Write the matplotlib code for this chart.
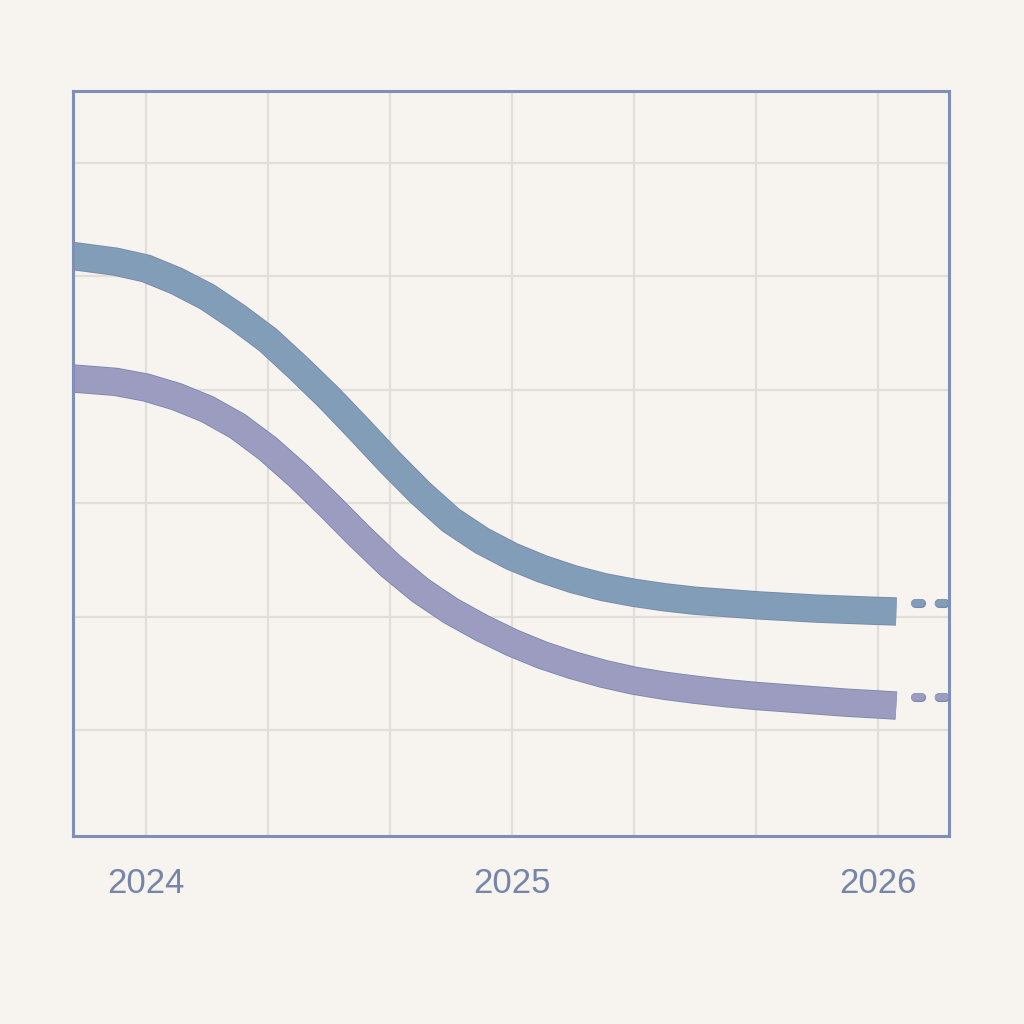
import matplotlib
matplotlib.use('Agg')
import matplotlib.pyplot as plt
import matplotlib.patheffects as pe

# decimal years (monthly)
years = [2023.800, 2023.917, 2024.000, 2024.083, 2024.167, 2024.250, 2024.333,
         2024.417, 2024.500, 2024.583, 2024.667, 2024.750, 2024.833, 2024.917,
         2025.000, 2025.083, 2025.167, 2025.250, 2025.333, 2025.417, 2025.500,
         2025.583, 2025.667, 2025.750, 2025.833, 2025.917, 2026.000, 2026.050]
upper = [5.18, 5.13, 5.07, 4.96, 4.82, 4.64, 4.44,
         4.19, 3.93, 3.65, 3.36, 3.09, 2.85, 2.67,
         2.53, 2.42, 2.33, 2.26, 2.21, 2.17, 2.14,
         2.12, 2.10, 2.085, 2.07, 2.06, 2.05, 2.045]
lower = [4.10, 4.07, 4.02, 3.94, 3.83, 3.68, 3.48,
         3.24, 2.98, 2.71, 2.45, 2.23, 2.05, 1.90,
         1.77, 1.66, 1.57, 1.495, 1.435, 1.39, 1.355,
         1.325, 1.30, 1.28, 1.26, 1.24, 1.225, 1.215]

# dotted continuation past the end of the solid lines
dot_years = [2026.10, 2026.25]
upper_dots = [2.12, 2.12]
lower_dots = [1.29, 1.29]

year_ticks = [2024, 2025, 2026]
year_labels = ['2024', '2025', '2026']
minor_ticks = [2024.333, 2024.667, 2025.333, 2025.667]
y_grid = [1, 2, 3, 4, 5, 6]

bg = '#f7f3ee'
c_upper = '#829db8'
c_lower = '#9b9cc0'
edge = '#7787ad'
spine_c = '#7f8fb5'
label_c = '#7586a9'

fig = plt.figure(figsize=(10.24, 10.24), dpi=100, facecolor=bg)
ax = fig.add_axes([0.0713, 0.1836, 0.8555, 0.7275], facecolor=bg)

for ys, col in [(upper, c_upper), (lower, c_lower)]:
    ax.plot(years, ys, color=col, lw=19.2, solid_capstyle='butt', solid_joinstyle='round',
            zorder=3, path_effects=[pe.Stroke(linewidth=20.4, foreground=edge,
                                              joinstyle='round', capstyle='butt'),
                                    pe.Normal()])

for ys, col in [(upper_dots, c_upper), (lower_dots, c_lower)]:
    ax.plot(dot_years, ys, color=col, lw=5.5, dashes=(0.8, 2.3), dash_capstyle='round',
            zorder=3, path_effects=[pe.Stroke(linewidth=6.5, foreground=edge), pe.Normal()])

ax.set_xlim(2023.8005, 2026.194)
ax.set_ylim(0.065, 6.635)

ax.set_xticks(year_ticks)
ax.set_xticklabels(year_labels)
ax.set_xticks(minor_ticks, minor=True)
ax.set_yticks(y_grid)
ax.set_yticklabels([])
ax.grid(True, which='both', color='#e1dedb', lw=1.6, zorder=0)
ax.tick_params(which='both', length=0)
ax.tick_params(axis='x', pad=22, labelsize=25, labelcolor=label_c)
for t in ax.get_xticklabels():
    t.set_family(['Liberation Sans', 'DejaVu Sans'])

for s in ax.spines.values():
    s.set_color(spine_c)
    s.set_linewidth(2.2)
    s.set_zorder(4)

fig.savefig('out.png', dpi=100, facecolor=bg)
